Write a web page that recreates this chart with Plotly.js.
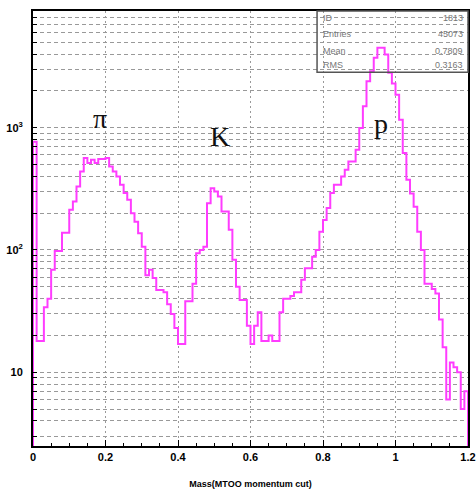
<!DOCTYPE html>
<html><head><meta charset="utf-8">
<script src="https://cdn.plot.ly/plotly-3.0.1.min.js"></script>
<style>html,body{margin:0;padding:0;background:#fff}#chart{width:476px;height:491px}</style>
</head><body><div id="chart"></div>
<script>
// Histogram definition: 120 bins of width 0.01 starting at 0
const binLow = 0;
const binWidth = 0.01;
const counts = [
  768, 18, 18, 34, 40, 69, 98, 98, 138, 138,
  213, 249, 330, 438, 565, 514, 547, 514, 554, 554,
  565, 482, 438, 399, 341, 292, 257, 200, 170, 137,
  106, 62, 69, 59, 47, 47, 45, 36, 30, 23,
  17, 17, 38, 38, 53, 94, 100, 106, 241, 320,
  301, 274, 206, 206, 146, 83, 50, 39, 39, 24,
  17, 24, 31, 18, 18, 20, 18, 18, 31, 40,
  40, 42, 45, 45, 57, 71, 71, 88, 100, 141,
  176, 220, 292, 341, 341, 399, 453, 530, 530, 661,
  995, 1496, 2398, 2893, 3724, 4500, 4500, 3964, 2806, 2300,
  1862, 1163, 621, 375, 290, 226, 141, 100, 53, 53,
  48, 44, 27, 16, 6, 12, 11, 10, 5, 7
];
const xTickVals = [0, 0.2, 0.4, 0.6, 0.8, 1, 1.2];
const yDecades = [10, 100, 1000];
const yDecadeText = ['10', '10<sup>2</sup>', '10<sup>3</sup>'];
const peakLabels = ['π', 'K', 'p'];
const statNames = ['ID', 'Entries', 'Mean', 'RMS'];
const statValues = ['1813', '45073', '0.7809', '0.3163'];
const xTitle = 'Mass(MTOO momentum cut)';

// build step outline
const floorVal = 1;
const xs = [binLow], ys = [floorVal];
for (let i = 0; i < counts.length; i++) { xs.push(binLow + i * binWidth); ys.push(counts[i]); }
const xEnd = binLow + counts.length * binWidth;
xs.push(xEnd); ys.push(counts[counts.length - 1]);
xs.push(xEnd); ys.push(floorVal);

// y ticks: every 1..9 x decade, labels only on decades
const yTickVals = [], yTickText = [];
for (const d of [1, 10, 100, 1000]) {
  for (let m = 1; m <= 9; m++) {
    const v = m * d;
    if (v < 3) continue;
    yTickVals.push(v);
    const k = yDecades.indexOf(v);
    yTickText.push(k >= 0 ? yDecadeText[k] : ' ');
  }
}

const trace = {
  type: 'scatter', mode: 'lines', x: xs, y: ys,
  line: {shape: 'hv', color: '#ff3cff', width: 2},
  hoverinfo: 'skip', showlegend: false
};

const labelFont = {family: 'Liberation Serif, DejaVu Serif, serif', size: 28, color: '#111'};
const statFont = {family: 'Liberation Sans, Arial, sans-serif', size: 9, color: '#777'};
const annotations = [
  {xref: 'paper', yref: 'paper', x: 0.154, y: 0.752, text: peakLabels[0], showarrow: false, font: labelFont, xanchor: 'center', yanchor: 'middle'},
  {xref: 'paper', yref: 'paper', x: 0.43, y: 0.712, text: peakLabels[1], showarrow: false, font: labelFont, xanchor: 'center', yanchor: 'middle'},
  {xref: 'paper', yref: 'paper', x: 0.8, y: 0.742, text: peakLabels[2], showarrow: false, font: labelFont, xanchor: 'center', yanchor: 'middle'}
];
const rowY = [0.983, 0.948, 0.909, 0.875];
statNames.forEach((n, i) => {
  annotations.push({xref: 'paper', yref: 'paper', x: 0.662, y: rowY[i], text: n, showarrow: false, font: statFont, xanchor: 'left', yanchor: 'middle'});
  annotations.push({xref: 'paper', yref: 'paper', x: 0.993, y: rowY[i], text: statValues[i], showarrow: false, font: statFont, xanchor: 'right', yanchor: 'middle'});
});

const tickFont = {family: 'Liberation Sans, Arial, sans-serif', size: 11, color: '#000', weight: 'bold'};
const layout = {
  width: 476, height: 491,
  margin: {l: 33, r: 8, t: 11, b: 45, pad: 0},
  paper_bgcolor: '#fff', plot_bgcolor: '#fff',
  showlegend: false,
  xaxis: {
    range: [0, 1.2], tickvals: xTickVals, ticks: 'inside', ticklen: 6, tickwidth: 1, tickcolor: '#000',
    showline: true, linecolor: '#000', linewidth: 2, mirror: true,
    showgrid: true, gridcolor: '#999', gridwidth: 1, griddash: '2px,3px', zeroline: false,
    minor: {dtick: 0.05, tick0: 0, ticks: 'inside', ticklen: 3, tickcolor: '#000', showgrid: false},
    tickfont: tickFont,
    title: {text: xTitle, font: {family: 'Liberation Sans, Arial, sans-serif', size: 9, color: '#000', weight: 'bold'}, standoff: 18}
  },
  yaxis: {
    type: 'log', range: [0.397, 3.954],
    tickvals: yTickVals, ticktext: yTickText,
    ticks: 'inside', ticklen: 4, tickwidth: 1, tickcolor: '#000',
    showline: true, linecolor: '#000', linewidth: 2, mirror: true,
    showgrid: true, gridcolor: '#999', gridwidth: 1, griddash: '4px,3px', zeroline: false,
    tickfont: tickFont, ticklabelstandoff: 6
  },
  shapes: [
    {type: 'rect', xref: 'paper', yref: 'paper', x0: 0.653, x1: 1.0, y0: 0.859, y1: 1.0,
     line: {color: '#555', width: 1.5}, fillcolor: 'rgba(0,0,0,0)'}
  ],
  annotations: annotations
};

Plotly.newPlot('chart', [trace], layout, {staticPlot: true, displayModeBar: false});
</script>
</body></html>
